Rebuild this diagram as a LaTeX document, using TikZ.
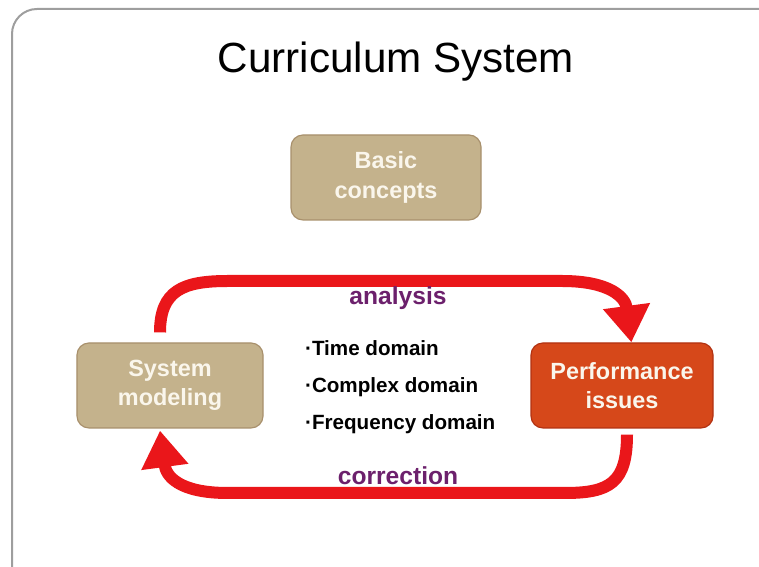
\documentclass[tikz,border=0pt]{standalone}
\usepackage{fontspec}
\setmainfont{Liberation Sans}
\usetikzlibrary{arrows.meta}

\definecolor{tan}{RGB}{196,178,140}
\definecolor{tanedge}{RGB}{168,144,108}
\definecolor{issue}{RGB}{214,72,26}
\definecolor{issueedge}{RGB}{178,50,18}
\definecolor{loopred}{RGB}{234,22,26}
\definecolor{labelpurple}{RGB}{108,32,108}
\definecolor{boxtext}{RGB}{250,246,236}

\begin{document}
\begin{tikzpicture}[x=0.03cm,y=0.03cm,
  topicbox/.style={draw=tanedge,fill=tan,line width=1pt,rounded corners=0.36cm,
    minimum width=5.7cm,minimum height=2.55cm,align=center,text=boxtext,
    font=\fontsize{20}{25}\selectfont\bfseries},
  loopline/.style={draw=loopred,line width=0.36cm,
    -{Triangle[width=1.35cm,length=1.1cm]}},
  looplabel/.style={text=labelpurple,font=\fontsize{21}{24}\selectfont\bfseries}]
\useasboundingbox (0,0) rectangle (759,567);

% frame
\draw[draw=black!38,line width=0.06cm,rounded corners=0.75cm] (12,-30) rectangle (790,558);

\node (title) at (396,505) {\fontsize{36}{40}\selectfont Curriculum System};

\node[topicbox] (basic) at (386,389.5) {Basic\\concepts};
\node[topicbox,minimum width=5.58cm] (sysmod) at (170,181.5) {System\\modeling};
\node[topicbox,minimum width=5.46cm,draw=issueedge,fill=issue] (perf) at (622,181.5) {Performance\\issues};

\node[align=left,anchor=west,font=\fontsize{17.6}{31.5}\selectfont\bfseries] (domains) at (301,180)
  {·Time domain\\·Complex domain\\·Frequency domain};

% loop
\coordinate (ltop) at (228,286);
\coordinate (rtop) at (562,286);
\coordinate (rbot) at (565,74);
\coordinate (lbot) at (228,74);

\draw[loopline] ([shift={(-10,10)}]sysmod.north) .. controls +(0,42) and +(-45,0) .. (ltop)
  -- (rtop) .. controls +(48,0) and +(-6,45) .. ([xshift=8]perf.north);
\draw[loopline] ([shift={(5,-6)}]perf.south) .. controls +(0,-48) and +(45,0) .. (rbot)
  -- (lbot) .. controls +(-50,0) and +(6,-45) .. ([shift={(-10,-2)}]sysmod.south);

\node[looplabel] (analysis) at (398,269) {analysis};
\node[looplabel] (correction) at (398,91) {correction};
\end{tikzpicture}
\end{document}
